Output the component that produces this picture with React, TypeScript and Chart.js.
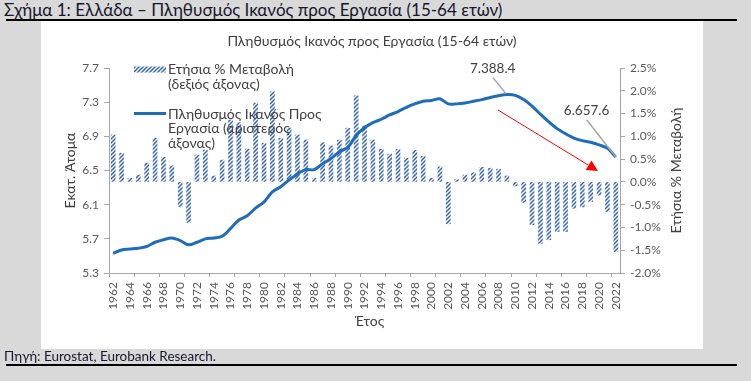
import React, { useEffect, useRef } from 'react';
import { Chart, registerables } from 'chart.js';

Chart.register(...registerables);

// ---------- data ----------
const years: string[] = [
  '1962', '1963', '1964', '1965', '1966', '1967', '1968', '1969', '1970', '1971',
  '1972', '1973', '1974', '1975', '1976', '1977', '1978', '1979', '1980', '1981',
  '1982', '1983', '1984', '1985', '1986', '1987', '1988', '1989', '1990', '1991',
  '1992', '1993', '1994', '1995', '1996', '1997', '1998', '1999', '2000', '2001',
  '2002', '2003', '2004', '2005', '2006', '2007', '2008', '2009', '2010', '2011',
  '2012', '2013', '2014', '2015', '2016', '2017', '2018', '2019', '2020', '2021',
  '2022',
];

// Working-age population, millions (left axis)
const population: number[] = [
  5.53, 5.57, 5.58, 5.59, 5.61, 5.66, 5.69, 5.71, 5.68, 5.63,
  5.66, 5.70, 5.71, 5.73, 5.82, 5.92, 5.97, 6.06, 6.13, 6.25,
  6.31, 6.39, 6.46, 6.51, 6.51, 6.58, 6.64, 6.72, 6.77, 6.91,
  7.00, 7.06, 7.10, 7.15, 7.19, 7.24, 7.28, 7.31, 7.32, 7.34,
  7.28, 7.28, 7.29, 7.31, 7.33, 7.355, 7.375, 7.3884, 7.38, 7.33,
  7.255, 7.16, 7.07, 6.99, 6.93, 6.88, 6.85, 6.83, 6.80, 6.76,
  6.6576,
];

// Annual % change (right axis)
const annualChange: number[] = [
  1.03, 0.63, 0.08, 0.15, 0.41, 0.96, 0.54, 0.35, -0.54, -0.89,
  0.59, 0.70, 0.13, 0.48, 1.36, 1.30, 0.72, 1.73, 0.85, 1.98,
  0.96, 1.18, 1.03, 0.92, 0.08, 0.86, 0.79, 0.92, 1.18, 1.89,
  1.23, 0.92, 0.72, 0.61, 0.71, 0.52, 0.69, 0.56, 0.08, 0.33,
  -0.92, 0.05, 0.15, 0.20, 0.32, 0.30, 0.28, 0.13, -0.09, -0.45,
  -0.94, -1.35, -1.27, -1.09, -1.09, -0.58, -0.55, -0.43, -0.29, -0.65,
  -1.53,
];

const leftAxis = { min: 5.3, max: 7.7, step: 0.4 };
const rightAxis = { min: -2.0, max: 2.5, step: 0.5 };

const pageTitle = 'Σχήμα 1: Ελλάδα – Πληθυσμός Ικανός προς Εργασία (15-64 ετών)';
const chartTitle = 'Πληθυσμός Ικανός προς Εργασία (15-64 ετών)';
const sourceText = 'Πηγή: Eurostat, Eurobank Research.';
const leftTitle = 'Εκατ. Άτομα';
const rightTitle = 'Ετήσια % Μεταβολή';
const xTitle = 'Έτος';
const barLegend = ['Ετήσια % Μεταβολή', '(δεξιός άξονας)'];
const lineLegend = ['Πληθυσμός Ικανός Προς', 'Εργασία (αριστερός', 'άξονας)'];
const peakIndex = 47; // 2009
const lastIndex = 60; // 2022
const peakLabel = '7.388.4';
const lastLabel = '6.657.6';

// ---------- styles ----------
const FONT = 'Lato, "Open Sans", sans-serif';
const LINE_BLUE = '#1f6db8';
const BAR_BLUE = '#3462b8';
const AXIS = '#a6a6a6';
const TICK = '#595959';
const TEXT = '#404040';

function makeHatch(color: string): CanvasPattern | string {
  const c = document.createElement('canvas');
  c.width = 4;
  c.height = 4;
  const g = c.getContext('2d');
  if (!g) return color;
  g.strokeStyle = color;
  g.lineWidth = 1.5;
  for (const dx of [-4, 0, 4]) {
    g.beginPath();
    g.moveTo(dx - 4, 8);
    g.lineTo(dx + 8, -4);
    g.stroke();
  }
  return g.createPattern(c, 'repeat') || color;
}

export default function App() {
  const ref = useRef<HTMLCanvasElement>(null);

  useEffect(() => {
    document.body.style.margin = '0';
    const canvas = ref.current;
    if (!canvas) return;
    const hatch = makeHatch(BAR_BLUE);

    const overlay = {
      id: 'overlay',
      afterDraw(chart: any) {
        const ctx: CanvasRenderingContext2D = chart.ctx;
        const area = chart.chartArea;
        ctx.save();
        ctx.textBaseline = 'middle';

        // chart title
        ctx.fillStyle = TEXT;
        ctx.font = `14px ${FONT}`;
        ctx.textAlign = 'center';
        ctx.fillText(chartTitle, 331, 20);

        // x title
        ctx.fillText(xTitle, (area.left + area.right) / 2 + 5, 300);

        // left title
        const midY = (area.top + area.bottom) / 2;
        ctx.save();
        ctx.translate(29, midY);
        ctx.rotate(-Math.PI / 2);
        ctx.fillText(leftTitle, 0, 0);
        ctx.restore();

        // right title
        ctx.save();
        ctx.translate(635, midY);
        ctx.rotate(-Math.PI / 2);
        ctx.fillText(rightTitle, 0, 0);
        ctx.restore();

        // legend
        ctx.textAlign = 'left';
        ctx.fillStyle = hatch as any;
        ctx.fillRect(93, 45.5, 32, 6);
        ctx.fillStyle = TEXT;
        ctx.fillText(barLegend[0], 127, 48);
        ctx.fillText(barLegend[1], 127, 63.5);
        ctx.strokeStyle = LINE_BLUE;
        ctx.lineWidth = 3;
        ctx.beginPath();
        ctx.moveTo(93, 92.5);
        ctx.lineTo(125, 92.5);
        ctx.stroke();
        ctx.fillText(lineLegend[0], 127, 93);
        ctx.fillText(lineLegend[1], 127, 107.5);
        ctx.fillText(lineLegend[2], 127, 122);

        // data labels with connectors
        ctx.font = `13.5px ${FONT}`;
        const meta = chart.getDatasetMeta(1);
        const pk = meta.data[peakIndex];
        const ls = meta.data[lastIndex];
        ctx.strokeStyle = '#a5a5a5';
        ctx.lineWidth = 1.5;
        if (pk) {
          ctx.beginPath();
          ctx.moveTo(pk.x - 14, pk.y - 17);
          ctx.lineTo(pk.x - 1, pk.y - 1);
          ctx.stroke();
          ctx.fillStyle = TEXT;
          ctx.fillText(peakLabel, pk.x - 37, pk.y - 26);
        }
        if (ls) {
          ctx.beginPath();
          ctx.moveTo(ls.x - 29, ls.y - 37);
          ctx.lineTo(ls.x, ls.y);
          ctx.stroke();
          ctx.fillStyle = TEXT;
          ctx.fillText(lastLabel, ls.x - 52, ls.y - 46);
        }

        // red trend arrow
        const x0 = 457, y0 = 89, x1 = 557, y1 = 150;
        const ang = Math.atan2(y1 - y0, x1 - x0);
        const headLen = 11, headW = 5.5;
        const bx = x1 - headLen * Math.cos(ang);
        const by = y1 - headLen * Math.sin(ang);
        ctx.strokeStyle = '#ff0000';
        ctx.fillStyle = '#ff0000';
        ctx.lineWidth = 1;
        ctx.beginPath();
        ctx.moveTo(x0, y0);
        ctx.lineTo(bx, by);
        ctx.stroke();
        ctx.beginPath();
        ctx.moveTo(x1, y1);
        ctx.lineTo(bx + headW * Math.sin(ang), by - headW * Math.cos(ang));
        ctx.lineTo(bx - headW * Math.sin(ang), by + headW * Math.cos(ang));
        ctx.closePath();
        ctx.fill();

        ctx.restore();
      },
    };

    const tickFont = { family: FONT, size: 12 };

    const chart = new Chart(canvas, {
      type: 'bar',
      data: {
        labels: years,
        datasets: [
          {
            type: 'bar',
            label: barLegend.join(' '),
            data: annualChange,
            yAxisID: 'y1',
            backgroundColor: hatch as any,
            borderWidth: 0,
            barThickness: 4,
            order: 2,
          },
          {
            type: 'line',
            label: lineLegend.join(' '),
            data: population,
            yAxisID: 'y',
            borderColor: LINE_BLUE,
            borderWidth: 3,
            pointRadius: 0,
            tension: 0.3,
            fill: false,
            order: 1,
          },
        ],
      } as any,
      options: {
        responsive: false,
        animation: false,
        devicePixelRatio: 1,
        layout: { padding: { top: 47, left: 0, right: 0, bottom: 0 } },
        plugins: {
          legend: { display: false },
          tooltip: { enabled: false },
          title: { display: false },
        },
        scales: {
          x: {
            type: 'category',
            offset: true,
            afterFit: (s: any) => { s.height = 76; },
            grid: {
              display: true,
              drawOnChartArea: false,
              offset: true,
              tickLength: 4,
              color: (c: any) => (c.index % 3 === 0 ? AXIS : 'rgba(0,0,0,0)'),
            },
            border: { display: true, color: AXIS, width: 1 },
            ticks: {
              autoSkip: false,
              minRotation: 90,
              maxRotation: 90,
              padding: 5,
              color: TICK,
              font: tickFont,
              callback: (_v: any, i: number) => (i % 2 === 0 ? years[i] : ''),
            },
          },
          y: {
            position: 'left',
            min: leftAxis.min,
            max: leftAxis.max,
            afterFit: (s: any) => { s.width = 68; },
            grid: { display: true, drawOnChartArea: false, tickLength: 5, color: AXIS },
            border: { display: true, color: AXIS, width: 1 },
            ticks: {
              stepSize: leftAxis.step,
              padding: 5,
              color: TICK,
              font: tickFont,
              callback: (v: any) => Number(v).toFixed(1),
            },
          },
          y1: {
            position: 'right',
            min: rightAxis.min,
            max: rightAxis.max,
            afterFit: (s: any) => { s.width = 83; },
            grid: { display: true, drawOnChartArea: false, tickLength: 5, color: AXIS },
            border: { display: true, color: AXIS, width: 1 },
            ticks: {
              stepSize: rightAxis.step,
              padding: 5,
              color: TICK,
              font: tickFont,
              callback: (v: any) => Number(v).toFixed(1) + '%',
            },
          },
        },
      } as any,
      plugins: [overlay],
    });

    return () => chart.destroy();
  }, []);

  return (
    <div
      style={{
        position: 'relative',
        width: 751,
        height: 381,
        background: '#d9d9d9',
        overflow: 'hidden',
        fontFamily: FONT,
      }}
    >
      <div
        style={{
          position: 'absolute',
          left: 4,
          top: 0,
          fontSize: 17,
          lineHeight: '19px',
          color: '#16162e',
          whiteSpace: 'nowrap',
        }}
      >
        {pageTitle}
      </div>
      <div style={{ position: 'absolute', left: 6, top: 19, width: 731, height: 1.5, background: '#000' }} />
      <div style={{ position: 'absolute', left: 41, top: 21, width: 662, height: 328, background: '#fff' }}>
        <canvas ref={ref} width={662} height={328} style={{ display: 'block', width: 662, height: 328 }} />
      </div>
      <div
        style={{
          position: 'absolute',
          left: 4,
          top: 349,
          fontSize: 13.5,
          lineHeight: '15px',
          color: '#16162e',
          whiteSpace: 'nowrap',
        }}
      >
        {sourceText}
      </div>
      <div style={{ position: 'absolute', left: 6, top: 364, width: 731, height: 1.5, background: '#000' }} />
    </div>
  );
}
